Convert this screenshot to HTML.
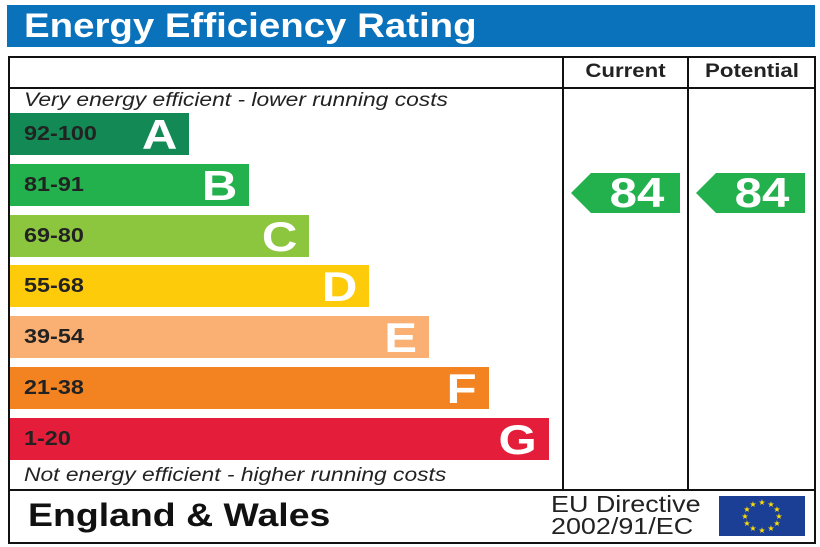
<!DOCTYPE html><html><head><style>
body{margin:0;width:820px;height:547px;background:#fff;font-family:"Liberation Sans",Arial,Helvetica,sans-serif;position:relative;overflow:hidden}
div{position:absolute;box-sizing:border-box}
.t{transform:scaleX(1.17);transform-origin:left top;white-space:nowrap}
.tc{transform:scaleX(1.17);transform-origin:center top;white-space:nowrap}
.tr{transform:scaleX(1.17);transform-origin:right top;white-space:nowrap}
.b{left:10px;height:42px;color:#fff;font-weight:bold}
.b .r{left:14px;top:10px;font-size:20px;color:#222}
.b .l{right:12px;top:-2px;font-size:42px}
.ln{background:#111}
</style></head><body>
<div style="left:7px;top:5px;width:808px;height:42px;background:#0a72bb"></div>
<div style="left:24px;top:7px;color:#fff;font-weight:bold;font-size:34px;transform:scaleX(1.13);transform-origin:left top;white-space:nowrap">Energy Efficiency Rating</div>
<div style="left:8px;top:56px;width:808px;height:488px;border:2px solid #111"></div>
<div class="ln" style="left:8px;top:87px;width:808px;height:2px"></div>
<div class="ln" style="left:8px;top:489px;width:808px;height:2px"></div>
<div class="ln" style="left:562px;top:56px;width:2px;height:434px"></div>
<div class="ln" style="left:687px;top:56px;width:2px;height:434px"></div>
<div class="tc" style="left:564px;top:61px;width:123px;text-align:center;font-weight:bold;font-size:19px;color:#222">Current</div>
<div class="tc" style="left:689px;top:61px;width:126px;text-align:center;font-weight:bold;font-size:19px;color:#222">Potential</div>
<div class="t" style="left:24px;top:89px;font-style:italic;font-size:19.5px;color:#222">Very energy efficient - lower running costs</div>
<div class="t" style="left:24px;top:464px;font-style:italic;font-size:19.5px;color:#222">Not energy efficient - higher running costs</div>
<div class="b" style="top:113px;width:179px;background:#138a55"><div class="r t">92-100</div><div class="l tr">A</div></div>
<div class="b" style="top:164px;width:239px;background:#22b14c"><div class="r t">81-91</div><div class="l tr">B</div></div>
<div class="b" style="top:215px;width:299px;background:#8cc63f"><div class="r t">69-80</div><div class="l tr">C</div></div>
<div class="b" style="top:265px;width:359px;background:#fecb0a"><div class="r t">55-68</div><div class="l tr">D</div></div>
<div class="b" style="top:316px;width:419px;background:#f9b072"><div class="r t">39-54</div><div class="l tr">E</div></div>
<div class="b" style="top:367px;width:479px;background:#f38321"><div class="r t">21-38</div><div class="l tr">F</div></div>
<div class="b" style="top:418px;width:539px;background:#e41e3a"><div class="r t">1-20</div><div class="l tr">G</div></div>
<div style="left:571px;top:173px;width:109px;height:40px;background:#22b14c;clip-path:polygon(0 50%,20px 0,100% 0,100% 100%,20px 100%)"></div>
<div class="tc" style="left:592px;top:169px;width:90px;text-align:center;color:#fff;font-weight:bold;font-size:42px">84</div>
<div style="left:696px;top:173px;width:109px;height:40px;background:#22b14c;clip-path:polygon(0 50%,20px 0,100% 0,100% 100%,20px 100%)"></div>
<div class="tc" style="left:717px;top:169px;width:90px;text-align:center;color:#fff;font-weight:bold;font-size:42px">84</div>
<div class="t" style="left:28px;top:497px;font-weight:bold;font-size:32px;color:#111">England &amp; Wales</div>
<div class="t" style="left:551px;top:493px;font-size:23px;line-height:22px;color:#222">EU Directive<br>2002/91/EC</div>
<div style="left:719px;top:496px;width:86px;height:40px;background:#1b3f94">
<svg width="86" height="40" style="position:absolute;left:0;top:0"><g fill="#ffdd00" font-size="8" text-anchor="middle">
<text x="43" y="9">★</text><text x="52" y="11">★</text><text x="58" y="16">★</text><text x="60" y="23">★</text><text x="58" y="30">★</text><text x="52" y="35">★</text><text x="43" y="37">★</text><text x="34" y="35">★</text><text x="28" y="30">★</text><text x="26" y="23">★</text><text x="28" y="16">★</text><text x="34" y="11">★</text></g></svg></div>
</body></html>
